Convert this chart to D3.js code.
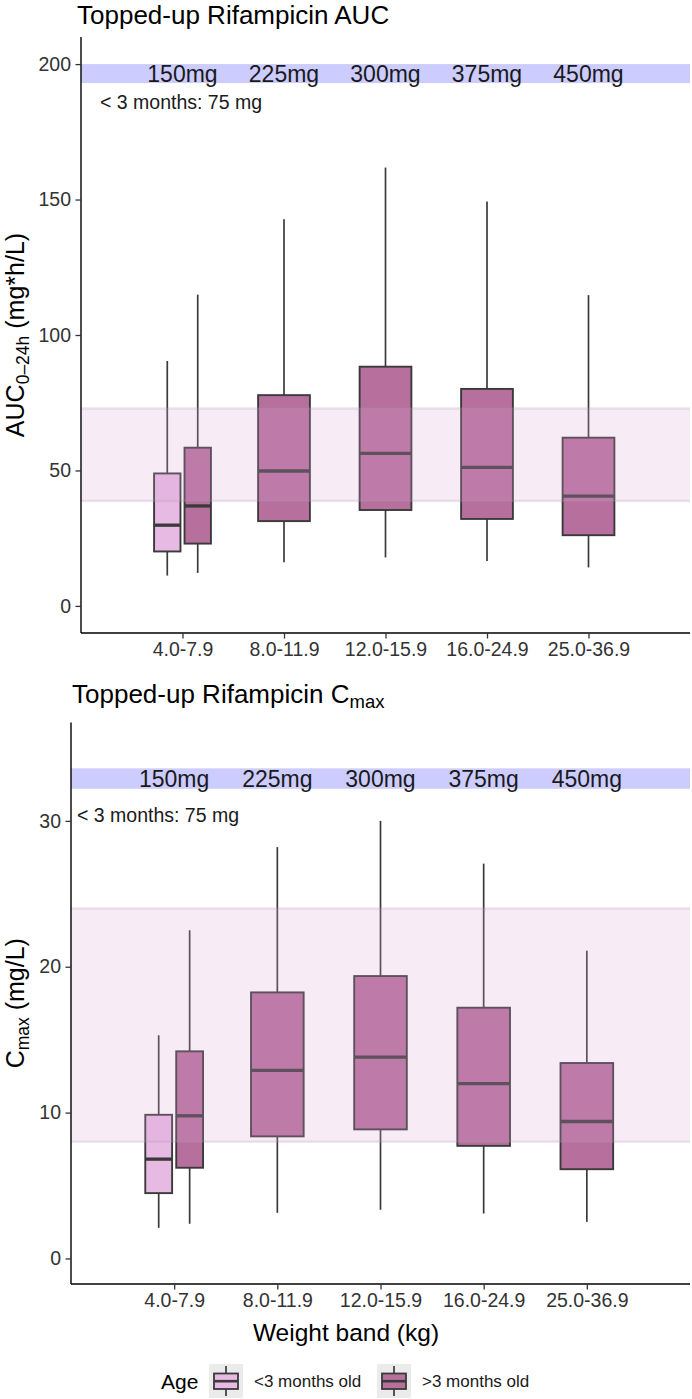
<!DOCTYPE html>
<html>
<head>
<meta charset="utf-8">
<script src="https://cdn.jsdelivr.net/npm/d3@7"></script>
<style>
  html, body { margin: 0; padding: 0; background: #fff; }
  svg text { font-family: "Liberation Sans", Arial, Helvetica, sans-serif; }
</style>
</head>
<body>
<svg id="chart" width="692" height="1399"></svg>
<script>
// ---------------- DATA ----------------
const weightBands = ["4.0-7.9", "8.0-11.9", "12.0-15.9", "16.0-24.9", "25.0-36.9"];
const doseLabels = ["150mg", "225mg", "300mg", "375mg", "450mg"];
const ageGroups = ["<3 months old", ">3 months old"];
const youngNote = "< 3 months: 75 mg";

// one entry per box
const boxBand  = ["4.0-7.9", "4.0-7.9", "8.0-11.9", "12.0-15.9", "16.0-24.9", "25.0-36.9"];
const boxGroup = ["<3 months old", ">3 months old", ">3 months old", ">3 months old", ">3 months old", ">3 months old"];

// AUC0-24h (mg*h/L)
const aucMin = [11.2, 12.2, 16.1, 17.9, 16.6, 14.2];
const aucQ1  = [20.1, 23.0, 31.3, 35.4, 32.1, 26.1];
const aucMed = [29.8, 36.9, 49.8, 56.3, 51.1, 40.5];
const aucQ3  = [48.9, 58.4, 77.8, 88.3, 80.1, 62.1];
const aucMax = [90.4, 114.9, 142.7, 161.8, 149.3, 114.7];
const aucTarget = [38.7, 72.9];
const aucDoseBand = [193, 200];
const aucTicks = [0, 50, 100, 150, 200];

// Cmax (mg/L)
const cmaxMin = [2.1, 2.38, 3.13, 3.34, 3.08, 2.51];
const cmaxQ1  = [4.48, 6.22, 8.37, 8.85, 7.72, 6.12];
const cmaxMed = [6.81, 9.78, 12.9, 13.8, 11.98, 9.39];
const cmaxQ3  = [9.85, 14.2, 18.24, 19.36, 17.19, 13.4];
const cmaxMax = [15.3, 22.5, 28.2, 30.0, 27.07, 21.1];
const cmaxTarget = [8.0, 24.0];
const cmaxDoseBand = [32.2, 33.6];
const cmaxTicks = [0, 10, 20, 30];

// ---------------- STYLE / LAYOUT ----------------
const FONT = '"Liberation Sans", Arial, Helvetica, sans-serif';
const fillColor = { "<3 months old": "#e7bae4", ">3 months old": "#b7709d" };
const boxStroke = "#3a3a3a";
const svg = d3.select("#chart");

function makeBoxes(mins, q1, med, q3, maxs) {
  return boxBand.map((b, i) => ({ band: b, group: boxGroup[i], min: mins[i], q1: q1[i], med: med[i], q3: q3[i], max: maxs[i] }));
}

function drawPanel(cfg) {
  const x = d3.scaleLinear().domain([0, 6]).range([cfg.left, 690]);
  const y = d3.scaleLinear().domain(cfg.yDomain).range([cfg.bottom, cfg.top]);
  const g = svg.append("g");

  // dose band (blue)
  g.append("rect")
    .attr("x", x(0)).attr("width", x(6) - x(0))
    .attr("y", y(cfg.doseBand[1])).attr("height", y(cfg.doseBand[0]) - y(cfg.doseBand[1]))
    .attr("fill", "#ccccff");

  // boxes
  const bandCount = d3.rollup(cfg.boxes, v => v.length, d => d.band);
  const boxes = cfg.boxes.map(d => {
    const idx = weightBands.indexOf(d.band) + 1;
    const n = bandCount.get(d.band);
    let cx = idx, w = 0.51;
    if (n === 2) { w = 0.26; cx = idx + (d.group === ageGroups[0] ? -0.15 : 0.15); }
    return Object.assign({}, d, { cx, w });
  });
  const bg = g.append("g");
  boxes.forEach(d => {
    const px = x(d.cx);
    bg.append("line").attr("x1", px).attr("x2", px).attr("y1", y(d.max)).attr("y2", y(d.q3))
      .attr("stroke", boxStroke).attr("stroke-width", 1.7);
    bg.append("line").attr("x1", px).attr("x2", px).attr("y1", y(d.q1)).attr("y2", y(d.min))
      .attr("stroke", boxStroke).attr("stroke-width", 1.7);
    bg.append("rect")
      .attr("x", x(d.cx - d.w / 2)).attr("width", x(d.cx + d.w / 2) - x(d.cx - d.w / 2))
      .attr("y", y(d.q3)).attr("height", y(d.q1) - y(d.q3))
      .attr("fill", fillColor[d.group]).attr("stroke", boxStroke).attr("stroke-width", 1.9);
    bg.append("line")
      .attr("x1", x(d.cx - d.w / 2)).attr("x2", x(d.cx + d.w / 2))
      .attr("y1", y(d.med)).attr("y2", y(d.med))
      .attr("stroke", boxStroke).attr("stroke-width", 3.3);
  });

  // target band overlay (plum, translucent)
  g.append("rect")
    .attr("x", x(0)).attr("width", x(6) - x(0))
    .attr("y", y(cfg.target[1])).attr("height", y(cfg.target[0]) - y(cfg.target[1]))
    .attr("fill", "rgb(218,164,215)").attr("fill-opacity", 0.22);
  cfg.target.forEach(v => {
    g.append("line").attr("x1", x(0)).attr("x2", x(6)).attr("y1", y(v)).attr("y2", y(v))
      .attr("stroke", "rgb(170,150,170)").attr("stroke-opacity", 0.22).attr("stroke-width", 2.5);
  });

  // dose labels
  g.selectAll(".dose").data(doseLabels).enter().append("text")
    .attr("x", (d, i) => x(i + 1))
    .attr("y", y(cfg.doseY))
    .attr("dy", "0.36em")
    .attr("text-anchor", "middle")
    .attr("font-size", 23).attr("fill", "#1a1a1a")
    .text(d => d);

  // young note
  g.append("text")
    .attr("x", x(cfg.noteX)).attr("y", y(cfg.noteY))
    .attr("font-size", 19.5).attr("fill", "#1a1a1a")
    .text(youngNote);

  // axes
  const yAxis = d3.axisLeft(y).tickValues(cfg.ticks).tickSize(5.5).tickPadding(4.5);
  const ya = g.append("g").attr("transform", `translate(${cfg.left},0)`).call(yAxis);
  const xAxis = d3.axisBottom(x).tickValues([1, 2, 3, 4, 5]).tickFormat(i => weightBands[i - 1]).tickSize(5.5).tickPadding(4);
  const xa = g.append("g").attr("transform", `translate(0,${cfg.bottom})`).call(xAxis);
  [ya, xa].forEach(a => {
    a.select(".domain").attr("stroke", "#000").attr("stroke-width", 1.4);
    a.selectAll(".tick line").attr("stroke", "#333").attr("stroke-width", 1.3);
    a.selectAll(".tick text").attr("font-size", 19.5).attr("fill", "#333").attr("font-family", FONT);
  });
  ya.select(".domain").attr("d", `M0,${cfg.top}V${cfg.bottom}`);
  xa.select(".domain").attr("d", `M${cfg.left},0H690`);

  // title
  const t = svg.append("text").attr("x", cfg.titleX).attr("y", cfg.titleY)
    .attr("font-size", 26).attr("fill", "#000");
  t.append("tspan").text(cfg.title[0]);
  if (cfg.title[1]) {
    t.append("tspan").attr("font-size", 18.5).attr("dy", 5).text(cfg.title[1]);
  }

  // y title
  const cy = (cfg.top + cfg.bottom) / 2;
  const yt = svg.append("text")
    .attr("transform", `translate(24,${cy}) rotate(-90)`)
    .attr("text-anchor", "middle")
    .attr("font-size", 25).attr("fill", "#000");
  yt.append("tspan").text(cfg.yTitle[0]);
  yt.append("tspan").attr("font-size", 17.5).attr("dy", 5).text(cfg.yTitle[1]);
  yt.append("tspan").attr("dy", -5).text(cfg.yTitle[2]);
}

drawPanel({
  left: 81, top: 37, bottom: 633, yDomain: [-10, 210],
  boxes: makeBoxes(aucMin, aucQ1, aucMed, aucQ3, aucMax),
  target: aucTarget, doseBand: aucDoseBand, doseY: 196.5,
  noteX: 0.187, noteY: 183.5, ticks: aucTicks,
  title: ["Topped-up Rifampicin AUC", null], titleX: 77, titleY: 24,
  yTitle: ["AUC", "0\u201324h", " (mg*h/L)"]
});

drawPanel({
  left: 71, top: 722.4, bottom: 1284, yDomain: [-1.75, 36.75],
  boxes: makeBoxes(cmaxMin, cmaxQ1, cmaxMed, cmaxQ3, cmaxMax),
  target: cmaxTarget, doseBand: cmaxDoseBand, doseY: 32.9,
  noteX: 0.058, noteY: 29.9, ticks: cmaxTicks,
  title: ["Topped-up Rifampicin C", "max"], titleX: 72, titleY: 703,
  yTitle: ["C", "max", " (mg/L)"]
});

// x axis title (centred on the figure)
svg.append("text").attr("x", 346).attr("y", 1341)
  .attr("text-anchor", "middle").attr("font-size", 24.5).attr("fill", "#000")
  .text("Weight band (kg)");

// legend
const leg = svg.append("g");
leg.append("text").attr("x", 161).attr("y", 1389).attr("font-size", 21).attr("fill", "#000").text("Age");
const keyX = [209, 377], labelX = [254, 422];
ageGroups.forEach((grp, i) => {
  const kx = keyX[i], ky = 1364;
  leg.append("rect").attr("x", kx).attr("y", ky).attr("width", 34).attr("height", 34).attr("fill", "#ebebeb");
  leg.append("line").attr("x1", kx + 17).attr("x2", kx + 17).attr("y1", ky + 2).attr("y2", ky + 32)
    .attr("stroke", boxStroke).attr("stroke-width", 1.7);
  leg.append("rect").attr("x", kx + 5).attr("y", ky + 9.5).attr("width", 24).attr("height", 15.5)
    .attr("fill", fillColor[grp]).attr("stroke", boxStroke).attr("stroke-width", 1.8);
  leg.append("line").attr("x1", kx + 5).attr("x2", kx + 29).attr("y1", ky + 17.2).attr("y2", ky + 17.2)
    .attr("stroke", boxStroke).attr("stroke-width", 2.6);
  leg.append("text").attr("x", labelX[i]).attr("y", 1387).attr("font-size", 17).attr("fill", "#1a1a1a").text(grp);
});
</script>
</body>
</html>
